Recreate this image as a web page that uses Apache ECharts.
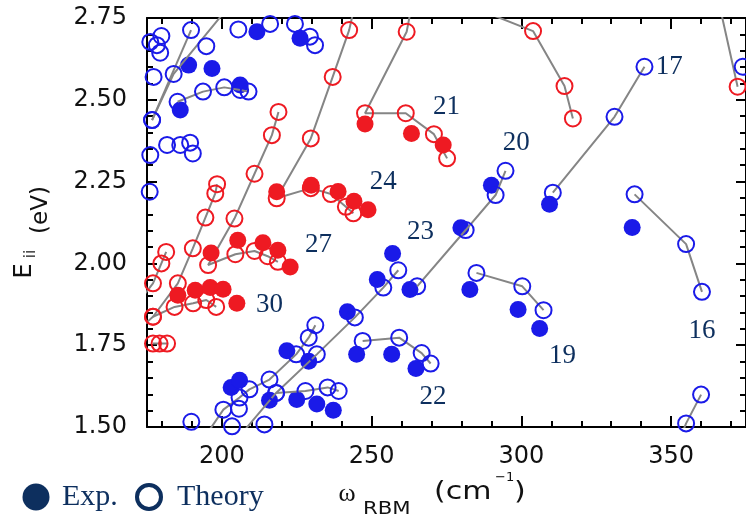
<!DOCTYPE html>
<html><head><meta charset="utf-8">
<script src="https://cdn.jsdelivr.net/npm/echarts@6/dist/echarts.min.js"></script>
<style>html,body{margin:0;padding:0;background:#fff}#c{width:746px;height:524px}</style>
</head><body><div id="c"></div>
<script>
// ---- axis ticks ----
const xTickLabels = [200, 250, 300, 350];
const xMinorTicks = [180,190,210,220,230,240,260,270,280,290,310,320,330,340,360,370];
const yTickLabels = [1.50, 1.75, 2.00, 2.25, 2.50, 2.75];

// ---- theory families, blue (open circles joined by grey lines) ----
const fam17 = [[341.1,2.601],[331.1,2.448],[310.5,2.216]];
const fam16 = [[337.8,2.211],[355.0,2.059],[360.3,1.913]];
const famLowRight = [[360.0,1.599],[355.0,1.511],[352.1,1.444]];
const fam19 = [[285.0,1.971],[300.3,1.930],[307.4,1.857]];
const fam20 = [[294.7,2.283],[291.4,2.209],[281.4,2.102],[265.2,1.930]];
const fam22 = [[247.0,1.763],[259.2,1.773],[266.7,1.726],[269.7,1.694]];
const fam23 = [[208.1,1.496],[218.1,1.604],[231.7,1.722],[244.4,1.835],[253.9,1.926],[258.9,1.979]];
const fam25 = [[218.1,1.604],[227.9,1.610],[235.3,1.621],[239.0,1.610]];
const fam26 = [[195.8,1.490],[200.5,1.553],[205.9,1.590],[209.2,1.615],[215.9,1.645],[224.8,1.722],[229.0,1.773],[231.2,1.811]];
const famTopA = [[189.7,2.713],[176.7,2.438]];
const famTopB = [[200.8,2.768],[183.9,2.579],[176.7,2.438]];
const famTopC = [[185.2,2.494],[193.7,2.525],[200.8,2.538],[206.1,2.530],[208.9,2.525]];
const openBlueOther = [[176.1,2.677],[179.8,2.695],[178.3,2.667],[179.4,2.644],[177.2,2.570],[194.8,2.664],[205.5,2.715],[216.1,2.732],[224.4,2.732],[229.4,2.693],[231.1,2.667],[181.7,2.362],[186.1,2.362],[189.4,2.369],[190.3,2.336],[176.1,2.331],[175.9,2.219],[189.8,1.516],[205.7,1.556],[203.4,1.502],[214.2,1.508],[193.8,1.496],[373.9,2.601]];

// ---- theory families, red ----
const fam21 = [[263.4,2.79],[261.7,2.708],[247.8,2.459],[261.4,2.459],[270.8,2.395],[275.2,2.321]];
const fam24 = [[244.4,2.79],[242.5,2.713],[237.0,2.570],[229.7,2.382],[218.3,2.199],[229.7,2.230],[236.4,2.212],[241.4,2.173],[243.9,2.153]];
const fam27 = [[218.9,2.463],[216.7,2.392],[210.9,2.274],[204.2,2.137],[195.4,1.995],[204.5,2.028],[210.9,2.038],[215.3,2.022],[218.7,2.005]];
const fam30 = [[172.5,1.80],[177.0,1.837],[185.3,1.939],[190.3,2.046],[194.5,2.140],[197.8,2.214],[198.4,2.242]];
const fam30b = [[177.0,1.837],[184.2,1.867],[190.4,1.878],[194.8,1.888],[198.1,1.867]];
const fam33 = [[172.8,1.89],[177.0,1.939],[179.8,2.000],[181.4,2.035]];
const fam36 = [[177.0,1.755],[179.2,1.755],[181.7,1.755]];
const fam18 = [[281.8,2.79],[303.9,2.710],[314.4,2.542],[317.2,2.443]];
const fam15 = [[365.4,2.82],[372.2,2.540]];

// ---- experiment ----
const expBlue = [[188.9,2.606],[196.7,2.596],[186.1,2.469],[206.1,2.545],[211.7,2.708],[226.1,2.688],[279.8,2.109],[290.0,2.239],[257.0,2.030],[251.9,1.951],[262.8,1.920],[241.9,1.852],[245.0,1.722],[256.7,1.722],[264.8,1.679],[282.8,1.920],[298.9,1.859],[306.1,1.801],[309.4,2.181],[337.0,2.110],[203.1,1.621],[205.9,1.643],[215.9,1.582],[225.0,1.584],[231.7,1.570],[237.2,1.551],[221.7,1.733],[229.0,1.701]];
const expRed = [[218.3,2.219],[229.8,2.239],[238.8,2.220],[244.1,2.190],[248.8,2.164],[247.8,2.426],[263.3,2.397],[273.9,2.362],[196.4,2.032],[205.3,2.071],[213.7,2.063],[218.7,2.040],[222.8,1.989],[185.3,1.903],[191.1,1.918],[196.1,1.926],[200.4,1.921],[205.0,1.878]];

// ---- family labels ----
const familyLabels = ['17','21','20','24','23','27','30','22','19','16'];
const familyLabelX = [349.4,275.0,298.3,253.9,266.3,232.3,215.9,270.5,313.7,360.3];
const familyLabelY = [2.601,2.479,2.367,2.249,2.096,2.056,1.872,1.592,1.716,1.794];

const blue = '#1a1ae8', red = '#ee1a22', grey = '#858585', navy = '#0d2f5e', ink = '#111';

function theoryLine(data, color, z) {
  return {type:'line', data, symbol:'circle', symbolSize:16, clip:true, z,
    lineStyle:{color:grey, width:2},
    itemStyle:{color:'rgba(255,255,255,0)', borderColor:color, borderWidth:2, opacity:1},
    emphasis:{disabled:true}, silent:true};
}
function openScatter(data, color, z) {
  return {type:'scatter', data, symbol:'circle', symbolSize:16, z,
    itemStyle:{color:'rgba(255,255,255,0)', borderColor:color, borderWidth:2, opacity:1}, silent:true};
}
function expScatter(data, color, z) {
  return {type:'scatter', data, symbol:'circle', symbolSize:17, z,
    itemStyle:{color, opacity:1}, silent:true};
}

const series = [];
[fam21, fam24, fam27, fam30, fam30b, fam33, fam36, fam18, fam15].forEach(d => series.push(theoryLine(d, red, 2)));
series.push(expScatter(expRed, red, 3));
series.push(expScatter(expBlue, blue, 3));
[fam17, fam16, famLowRight, fam19, fam20, fam22, fam23, fam25, fam26, famTopA, famTopB, famTopC].forEach(d => series.push(theoryLine(d, blue, 4)));
series.push(openScatter(openBlueOther, blue, 4));
series.push({type:'scatter', z:6, silent:true, symbolSize:1, itemStyle:{color:'rgba(0,0,0,0)', opacity:1},
  data: familyLabels.map((n,i) => ({name:n, value:[familyLabelX[i], familyLabelY[i]]})),
  label:{show:true, position:'inside', formatter:'{b}', fontFamily:'Liberation Serif', fontSize:27, color:navy, opacity:1, textBorderWidth:0}});

const axLine = {show:true, onZero:false, lineStyle:{color:'#000', width:2}};
const tickStyle = {color:'#000', width:2};
function xAx(pos, major) {
  return {type:'value', position:pos, min:175, max:375, axisLine: major ? axLine : {show:false},
    axisTick:{show:true, inside:true, length: major ? 11 : 6, customValues: major ? xTickLabels : xMinorTicks, lineStyle:tickStyle},
    axisLabel: (major && pos==='bottom') ? {show:true, customValues:xTickLabels, fontFamily:'DejaVu Sans', fontSize:24, color:ink, margin:18} : {show:false},
    splitLine:{show:false}};
}
function yAx(pos) {
  return {type:'value', position:pos, min:1.5, max:2.75, interval:0.25, axisLine:axLine,
    axisTick:{show:true, inside:true, length:10, lineStyle:tickStyle},
    minorTick:{show:true, splitNumber:5, length:6, lineStyle:tickStyle},
    axisLabel: pos==='left' ? {show:true, customValues:yTickLabels, formatter:v => v.toFixed(2), fontFamily:'DejaVu Sans', fontSize:24, color:ink, margin:20} : {show:false},
    splitLine:{show:false}, minorSplitLine:{show:false}};
}

const chart = echarts.init(document.getElementById('c'), null, {renderer:'canvas'});
chart.setOption({
  animation:false,
  backgroundColor:'#fff',
  grid:{left:147, top:18, width:600, height:409, containLabel:false},
  xAxis:[xAx('bottom',true), xAx('bottom',false), xAx('top',true), xAx('top',false)],
  yAxis:[yAx('left'), yAx('right')],
  series,
  graphic:[
    {type:'text', x:25, y:271, rotation:Math.PI/2, style:{text:'E', font:'24px "DejaVu Sans"', fill:ink, align:'center', verticalAlign:'middle'}},
    {type:'text', x:31, y:254, rotation:Math.PI/2, style:{text:'ii', font:'15px "DejaVu Sans"', fill:ink, align:'center', verticalAlign:'middle'}},
    {type:'text', x:41, y:210, rotation:Math.PI/2, style:{text:'(eV)', font:'23px "DejaVu Sans"', fill:ink, align:'center', verticalAlign:'middle'}},
    {type:'text', x:347, y:494, style:{text:'ω', font:'26px "Liberation Serif"', fill:ink, align:'center', verticalAlign:'middle'}},
    {type:'text', x:363, y:510, scaleX:1.25, style:{text:'RBM', font:'17px "DejaVu Sans"', fill:ink, align:'left', verticalAlign:'middle'}},
    {type:'text', x:434, y:492, scaleX:1.2, style:{text:'(cm', font:'25px "DejaVu Sans"', fill:ink, align:'left', verticalAlign:'middle'}},
    {type:'text', x:495, y:478, style:{text:'−1', font:'13px "DejaVu Sans"', fill:ink, align:'left', verticalAlign:'middle'}},
    {type:'text', x:514, y:492, scaleX:1.2, style:{text:')', font:'25px "DejaVu Sans"', fill:ink, align:'left', verticalAlign:'middle'}},
    {type:'circle', shape:{cx:36, cy:497, r:13.5}, style:{fill:navy}},
    {type:'text', x:62, y:497, style:{text:'Exp.', font:'30px "Liberation Serif"', fill:navy, align:'left', verticalAlign:'middle'}},
    {type:'circle', shape:{cx:149, cy:497, r:12}, style:{fill:'none', stroke:navy, lineWidth:4}},
    {type:'text', x:177, y:497, style:{text:'Theory', font:'30px "Liberation Serif"', fill:navy, align:'left', verticalAlign:'middle'}}
  ]
});
</script></body></html>
